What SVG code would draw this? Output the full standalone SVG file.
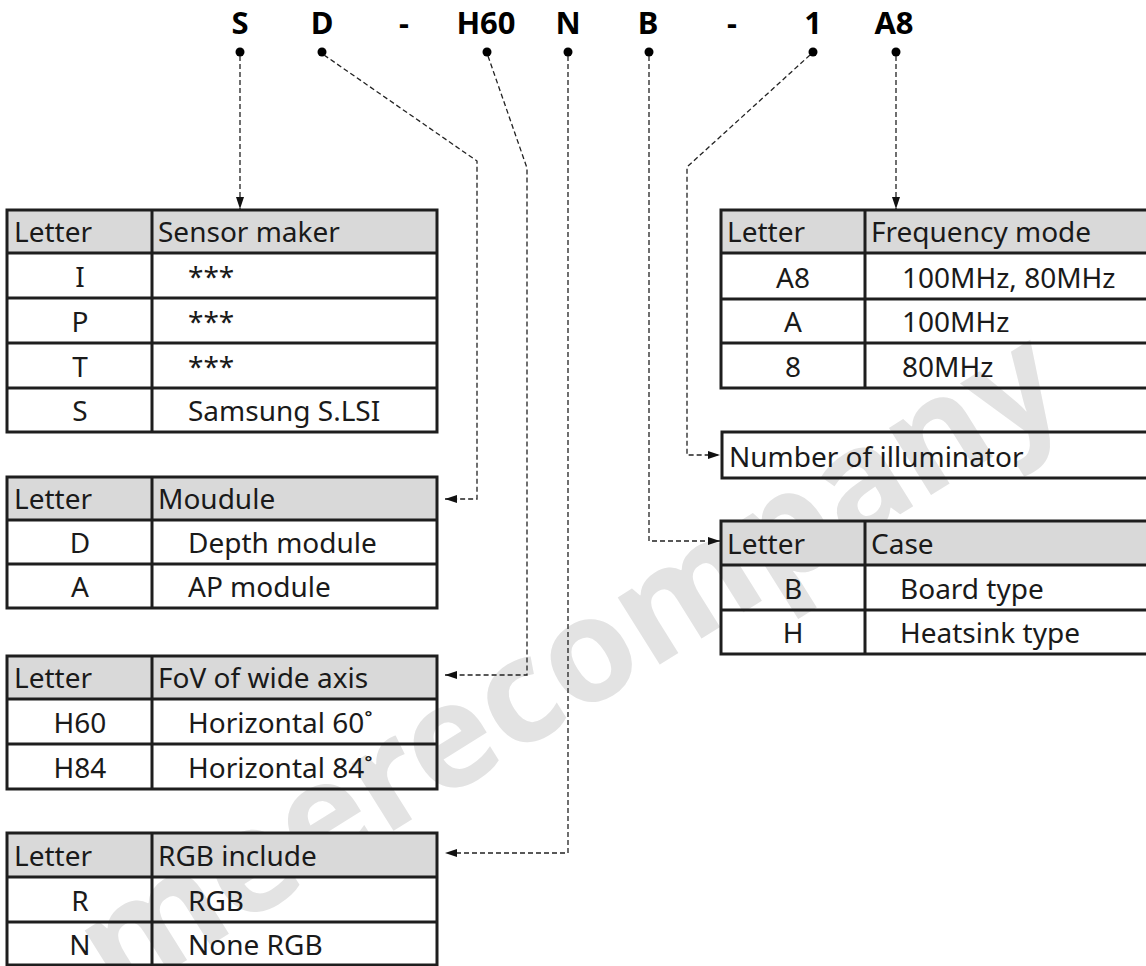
<svg xmlns="http://www.w3.org/2000/svg" width="1146" height="966" viewBox="0 0 1146 966">
<style>
.t{font-family:"Noto Sans","Liberation Sans",sans-serif;font-size:28px;fill:#1a1a1a}
.c{text-anchor:middle}
.title{font-family:"Noto Sans","Liberation Sans",sans-serif;font-size:31px;font-weight:bold;fill:#000;text-anchor:middle}
.hdr{fill:#d9d9d9}
.grid{fill:none;stroke:#1e1e1e;stroke-width:3}
.dash{fill:none;stroke:#222;stroke-width:1.3;stroke-dasharray:5 3}
.wm{font-family:"Noto Sans","Liberation Sans",sans-serif;font-size:145px;font-weight:bold;fill:#e3e3e3;text-anchor:middle}
</style>
<defs>
<marker id="ah" markerWidth="12" markerHeight="8" refX="12" refY="4" orient="auto" markerUnits="userSpaceOnUse">
<path d="M0,0 L12,4 L0,8 z" fill="#111"/>
</marker>
</defs>
<rect width="1146" height="966" fill="#fff"/>
<text class="wm" transform="translate(595,705) rotate(-32)">meerecompany</text>

<g id="title">
<text class="title" x="240" y="34">S</text>
<text class="title" x="322" y="34">D</text>
<text class="title" x="404" y="34">-</text>
<text class="title" x="486" y="34">H60</text>
<text class="title" x="568" y="34">N</text>
<text class="title" x="648" y="34">B</text>
<text class="title" x="732" y="34">-</text>
<text class="title" x="813" y="34">1</text>
<text class="title" x="894" y="34">A8</text>
<g fill="#000">
<circle cx="240" cy="52" r="4.5"/>
<circle cx="322" cy="52" r="4.5"/>
<circle cx="487" cy="52" r="4.5"/>
<circle cx="568" cy="52" r="4.5"/>
<circle cx="649" cy="52" r="4.5"/>
<circle cx="813" cy="52" r="4.5"/>
<circle cx="896" cy="52" r="4.5"/>
</g>
</g>

<g id="connectors">
<path class="dash" d="M240,56 V209" marker-end="url(#ah)"/>
<path class="dash" d="M324,55 L477,161 V499 H445" marker-end="url(#ah)"/>
<path class="dash" d="M488,56 L527,168 V675 H445" marker-end="url(#ah)"/>
<path class="dash" d="M568,56 V853 H445" marker-end="url(#ah)"/>
<path class="dash" d="M649,56 V541 H720" marker-end="url(#ah)"/>
<path class="dash" d="M810,55 L687,167 V455 H720" marker-end="url(#ah)"/>
<path class="dash" d="M896,56 V209" marker-end="url(#ah)"/>
</g>

<g id="sensor-maker">
<rect class="hdr" x="7" y="210" width="430" height="43"/>
<path class="grid" d="M7,210 H437 V432 H7 Z M7,253 H437 M7,298 H437 M7,343 H437 M7,388 H437 M152,210 V432"/>
<text class="t" x="14" y="242">Letter</text>
<text class="t" x="158" y="242">Sensor maker</text>
<text class="t c" x="80" y="287">I</text><text class="t" x="188" y="287">***</text>
<text class="t c" x="80" y="332">P</text><text class="t" x="188" y="332">***</text>
<text class="t c" x="80" y="377">T</text><text class="t" x="188" y="377">***</text>
<text class="t c" x="80" y="421">S</text><text class="t" x="188" y="421">Samsung S.LSI</text>
</g>

<g id="module">
<rect class="hdr" x="7" y="477" width="430" height="43"/>
<path class="grid" d="M7,477 H437 V608 H7 Z M7,520 H437 M7,564 H437 M152,477 V608"/>
<text class="t" x="14" y="509">Letter</text>
<text class="t" x="158" y="509">Moudule</text>
<text class="t c" x="80" y="553">D</text><text class="t" x="188" y="553">Depth module</text>
<text class="t c" x="80" y="597">A</text><text class="t" x="188" y="597">AP module</text>
</g>

<g id="fov">
<rect class="hdr" x="7" y="656" width="430" height="43"/>
<path class="grid" d="M7,656 H437 V789 H7 Z M7,699 H437 M7,744 H437 M152,656 V789"/>
<text class="t" x="14" y="688">Letter</text>
<text class="t" x="158" y="688">FoV of wide axis</text>
<text class="t c" x="80" y="733">H60</text><text class="t" x="188" y="733">Horizontal 60˚</text>
<text class="t c" x="80" y="778">H84</text><text class="t" x="188" y="778">Horizontal 84˚</text>
</g>

<g id="rgb">
<rect class="hdr" x="7" y="833" width="430" height="44"/>
<path class="grid" d="M7,833 H437 V965 H7 Z M7,877 H437 M7,922 H437 M152,833 V965"/>
<text class="t" x="14" y="866">Letter</text>
<text class="t" x="158" y="866">RGB include</text>
<text class="t c" x="80" y="911">R</text><text class="t" x="188" y="911">RGB</text>
<text class="t c" x="80" y="955">N</text><text class="t" x="188" y="955">None RGB</text>
</g>

<g id="frequency">
<rect class="hdr" x="721" y="210" width="430" height="43"/>
<path class="grid" d="M1152,210 H721 V388 H1152 M721,253 H1152 M721,299 H1152 M721,343 H1152 M865,210 V388"/>
<text class="t" x="727" y="242">Letter</text>
<text class="t" x="871" y="242">Frequency mode</text>
<text class="t c" x="793" y="288">A8</text><text class="t" x="902" y="288">100MHz, 80MHz</text>
<text class="t c" x="793" y="332">A</text><text class="t" x="902" y="332">100MHz</text>
<text class="t c" x="793" y="377">8</text><text class="t" x="902" y="377">80MHz</text>
</g>

<g id="illuminator">
<path class="grid" d="M1152,432 H722 V478 H1152"/>
<text class="t" x="729" y="467">Number of illuminator</text>
</g>

<g id="case">
<rect class="hdr" x="721" y="521" width="430" height="44"/>
<path class="grid" d="M1152,521 H721 V654 H1152 M721,565 H1152 M721,610 H1152 M865,521 V654"/>
<text class="t" x="727" y="554">Letter</text>
<text class="t" x="871" y="554">Case</text>
<text class="t c" x="793" y="599">B</text><text class="t" x="900" y="599">Board type</text>
<text class="t c" x="793" y="643">H</text><text class="t" x="900" y="643">Heatsink type</text>
</g>
</svg>
